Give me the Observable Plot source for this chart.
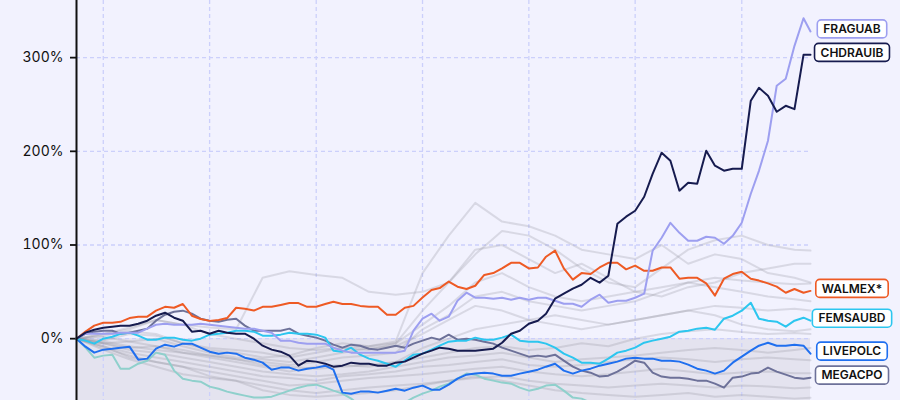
<!DOCTYPE html>
<html><head><meta charset="utf-8">
<script src="https://cdn.jsdelivr.net/npm/d3@7"></script>
<script src="https://cdn.jsdelivr.net/npm/@observablehq/plot@0.6"></script>
<style>
html,body{margin:0;padding:0;background:#f2f2fe;}
#chart{width:900px;height:400px;overflow:hidden;}
#chart svg [aria-label="y-axis tick"]{stroke-width:1.8px;}
</style></head><body><div id="chart"></div>
<script>
// Monthly observation dates (Oct 2018 → Aug 2025)
const monthDates = d3.utcMonth.range(new Date(Date.UTC(2018, 9, 1)), new Date(Date.UTC(2025, 7, 2)));
monthDates.push(new Date(Date.UTC(2025, 7, 25)));
const quarterDates = monthDates.filter((d, i) => i % 3 === 0 || i === monthDates.length - 1);

const yearTicks = ["2019-01-01","2020-01-01","2021-01-01","2022-01-01","2023-01-01","2024-01-01","2025-01-01"].map(d => new Date(d));
const yTicks = [0, 100, 200, 300];

// Highlighted series (cumulative return, %)
const hiNames  = ["LALAB", "MEGACPO", "LIVEPOLC", "FEMSAUBD", "WALMEX*", "FRAGUAB", "CHDRAUIB"];
const hiColors = ["#8fd0cc", "#6d7199", "#1f6fef", "#2cc6ef", "#ee5a24", "#9d9ff0", "#161b4f"];
const hiLabeled = [false, true, true, true, true, true, true];

const lalab = [0,-9.6,-20.3,-18.1,-17.1,-32,-32,-26.7,-23.5,-14.9, -17.1,-34.1,-42.7,-44.8,-45.9,-51.2,-53.4,-56.5,-58.7,-60.8, -62.9,-62.9,-61.9,-58.7,-55.5,-52.3,-50.1,-49.1,-52.3,-55.5, -58.7,-64,-71.5,-76.8,-76.8,-74.7,-71.5,-68.3,-62.9,-58.7, -55.5,-51.2,-48,-42.7,-37.3,-38.4,-42.7,-44.8,-46.9,-48, -52.3,-55.5,-53.4,-50.1,-49.1,-55.5,-62.9,-64,-68.3,-72, -75,-74,-77,-80,-78,-82,-84,-83,-86,-85, -88,-87,-89,-86,-84,-85,-83,-86,-84,-85, -87,-86,-88,-87];
const megacpo = [0,5.3,7.5,8.5,8.5,5.3,6.4,8.5,10.7,19.2, 25.6,28.8,29.9,26.7,21.3,19.2,18.1,20.3,21.3,13.9, 8.5,8.5,8.5,8.5,10.7,5.3,3.2,1.1,-2.1,-6.4, -9.6,-6.4,-7.5,-10.7,-11.7,-9.6,-7.5,-9.6,-5.3,-2.1, 1.1,-1.1,4.3,-1.1,0,-1.1,-3.2,-5.3,-9.6,-12.8, -16,-19.2,-18.1,-19.2,-17.1,-23.5,-29.9,-34.1,-36.3,-40.5, -39.5,-35.2,-29.9,-23.5,-25.6,-36.3,-40.5,-41.6,-41.6,-42.7, -44.8,-44.8,-48,-52.3,-41.6,-40.5,-37.3,-36.3,-30.9,-35.2, -38.4,-41.6,-42.7,-41.6];
const livepolc = [0,-8.5,-14.9,-11.7,-10.7,-9.6,-8.5,-22.4,-21.3,-10.7, -6.4,-8.5,-5.3,-5.3,-9.6,-13.9,-16,-14.9,-16,-20.3, -22.4,-25.6,-33.1,-30.9,-30.9,-34.1,-32,-30.9,-28.8,-33.1, -57.6,-58.7,-56.5,-56.5,-57.6,-55.5,-53.4,-55.5,-52.3,-50.1, -54.4,-54.4,-49.1,-42.7,-38.4,-37.3,-36.3,-37.3,-39.5,-39.5, -37.3,-35.2,-33.1,-29.9,-26.7,-34.1,-37.3,-34.1,-32,-28.8, -26.7,-24.5,-21.3,-20.3,-21.3,-21.3,-23.5,-23.5,-24.5,-27.7, -32,-34.1,-37.3,-34.1,-25.6,-19.2,-12.8,-7.5,-4.3,-7.5, -7.5,-6.4,-7.5,-16];
const femsaubd = [0,-2.1,-5.3,0,2.1,5.3,6.4,3.2,-1.1,-1.1, 1.1,1.1,-1.1,-2.1,0,4.3,5.3,6.4,8.5,8.5, 7.5,3.2,3.2,4.3,6.4,5.3,5.3,4.3,1.1,-12.8, -13.9,-9.6,-17.1,-21.3,-23.5,-26.7,-29.9,-23.5,-17.1,-16, -11.7,-7.5,-3.2,-2.1,-2.1,1.1,-1.1,-1.1,1.1,4.3, -2.1,-3.2,-3.2,-5.3,-9.6,-16,-20.3,-25.6,-25.6,-26.7, -21.3,-14.9,-12.8,-9.6,-4.3,-2.1,0,2.1,7.5,8.5, 10.7,11.7,9.6,21.3,24.5,29.9,38.4,21.3,19.2,18.1, 12.8,19.2,22.4,19.2];
const walmex = [0,7.5,13.9,17,17,18,22,23.5,23.5,30, 34,33,37,24.5,21,19,20,22,33,32, 30,34,34,36,38,38,34,34,37,39.5, 37,37,35,34,34,25.5,25.5,33,35,44, 52,54,61,55.5,53,56.5,68,70,75,81, 81,75,76,87.5,94,75,63,70,69,76, 81,81,74,78,72.5,72.5,76,76,64,65, 65,59,46,64,69,71.5,64,62,59,55.5, 49,53,49,51];
const fraguab = [0,5.3,5.3,5.3,5.3,6.4,6.4,6.4,10.7,14.9, 16,14.9,14.9,14.9,16,14.9,13.9,12.8,11.7,10.7, 10.7,8.5,6.4,-2.1,-2.1,-4.3,-5.3,-5.3,-5.3,-9.6, -12.8,-14.9,-14.9,-14.9,-14.9,-14.9,-14.9,-12.8,8.5,21.3, 26.7,19.2,23.5,40.5,49.1,43.7,43.7,42.7,43.7,41.6, 43.7,41.6,43.7,43.7,40.5,37.3,37.3,34.1,41.6,46.9, 38.4,40.5,40.5,43.7,48,93.9,107.7,123.7,113,104.5, 104.5,108.8,107.7,101.3,109.8,123.7,154.7,179.2,211.3,270, 277.4,312.6,342,328];
const chdrauib = [0,6.4,9.6,11.7,12.8,13.9,13.9,16,19.2,24.5, 27.7,22.4,19.2,7.5,8.5,5.3,8.5,6.4,5.3,5.3, 0,-7.5,-11.7,-13.9,-18.1,-28.8,-23.5,-24.5,-26.7,-29.9, -28.8,-25.6,-26.7,-26.7,-28.8,-28.8,-25.6,-24.5,-20.3,-16, -12.8,-9.6,-10.7,-12.8,-12.8,-12.8,-11.7,-10.7,-4.3,5.3, 8.5,16,19.2,26.7,42.7,48,53.4,57.6,65,59.8, 67.2,122.7,130.2,136.6,151.5,176,198.5,190,158,166.5, 165.4,200.6,184.6,179.3,181.4,181.4,254,267.8,259.3,242.2, 248.6,245,303,303];
const hiValues = [lalab, megacpo, livepolc, femsaubd, walmex, fraguab, chdrauib];

// Background (peer) series, quarterly
const grayNames = ["ALSEA*","BIMBOA","KOFUBL","AC*","SORIANAB","LACOMERUBC","GRUMAB","HERDEZ*","CULTIBAB","BACHOCOB","GIGANTE*","SIMECB","GENTERA*"];
const g1  = [0,3,8,5,-5,-12,-15,-20,-18,-10,-5,-8,-3,70,110,145,125,120,110,95,90,85,100,80,90,85,70,65,60];
const g2  = [0,5,10,20,15,12,10,65,72,68,65,50,47,50,60,90,115,110,95,75,60,55,75,95,105,110,100,95,94];
const g3  = [0,-2,5,3,-5,-10,-12,-15,-20,-15,-10,-12,-5,30,60,95,100,85,70,80,65,50,45,55,60,70,75,80,80];
const g4  = [0,2,-3,-8,-12,-18,-22,-25,-28,-25,-20,-18,-15,10,25,45,50,40,35,30,35,40,50,60,55,50,45,42,40];
const g5  = [0,-5,-10,-8,-15,-20,-25,-30,-35,-30,-28,-30,-25,-10,0,10,15,20,25,20,15,20,25,30,35,33,30,32,30];
const g6  = [0,-3,-8,-12,-15,-18,-22,-28,-30,-32,-30,-28,-25,-20,-15,-10,-8,-12,-10,-5,-8,0,5,8,10,7,5,6,5];
const g7  = [0,-5,-12,-15,-20,-25,-30,-35,-38,-40,-38,-35,-30,-25,-20,-18,-15,-20,-25,-22,-20,-18,-15,-12,-10,-12,-15,-12,-10];
const g8  = [0,-8,-15,-20,-25,-30,-35,-40,-42,-45,-40,-38,-35,-30,-28,-25,-22,-28,-30,-28,-25,-22,-20,-22,-25,-22,-20,-22,-23];
const g9  = [0,-10,-18,-25,-30,-35,-40,-45,-50,-48,-45,-42,-40,-38,-35,-32,-30,-35,-38,-40,-38,-35,-32,-35,-38,-36,-35,-37,-37];
const g10 = [0,-12,-22,-30,-38,-42,-45,-50,-55,-58,-55,-52,-50,-48,-45,-42,-40,-45,-48,-50,-52,-50,-48,-50,-52,-50,-51,-53,-52];
const g11 = [0,5,12,20,15,5,0,-5,-10,-12,-10,-8,-5,15,35,60,70,55,45,40,45,50,55,60,65,62,60,58,59];
const g12 = [0,-5,-3,0,-8,-15,-20,-22,-25,-20,-15,-10,-8,5,20,35,30,20,15,10,15,20,25,30,25,15,10,8,10];
const g13 = [0,-8,-20,-25,-30,-40,-45,-55,-60,-62,-60,-58,-55,-50,-45,-40,-45,-50,-55,-58,-60,-62,-60,-58,-62,-60,-62,-64,-63];
const grayValues = [g1,g2,g3,g4,g5,g6,g7,g8,g9,g10,g11,g12,g13];

const yDomain = [-66, 361];

const grayRows = [];
grayNames.forEach((n, k) => grayValues[k].forEach((v, i) => grayRows.push({name: n, date: quarterDates[i], value: v})));
const hiRows = hiNames.map((n, k) => hiValues[k].map((v, i) => ({name: n, date: monthDates[i], value: v})));

const first = monthDates[0], last = monthDates[monthDates.length - 1];

const plot = Plot.plot({
  width: 900, height: 400,
  marginLeft: 76, marginRight: 90, marginTop: 0, marginBottom: 0,
  style: {background: "#f2f2fe", fontFamily: "Inter, sans-serif", fontSize: "14px", color: "#111", overflow: "hidden"},
  x: {type: "utc", domain: [first, last], axis: null},
  y: {domain: yDomain, ticks: yTicks, tickFormat: d => d + "%", tickSize: 6, tickPadding: 7, label: null},
  marks: [
    Plot.rect([{x1: first, x2: last, y1: yDomain[0], y2: 0}], {x1: "x1", x2: "x2", y1: "y1", y2: "y2", fill: "#e4e3ef"}),
    Plot.ruleX(yearTicks, {stroke: "#ccd0fb", strokeWidth: 1.3, strokeDasharray: "4,3"}),
    Plot.ruleY(yTicks, {stroke: "#ccd0fb", strokeWidth: 1.3, strokeDasharray: "4,3"}),
    Plot.line(grayRows, {x: "date", y: "value", z: "name", stroke: "#8e8e9c", strokeOpacity: 0.26, strokeWidth: 2}),
    ...hiRows.map((rows, k) => Plot.line(rows, {x: "date", y: "value", stroke: hiColors[k], strokeWidth: 2})),
    Plot.ruleX([first], {stroke: "#111", strokeWidth: 2})
  ]
});

document.getElementById("chart").appendChild(plot);

// Right-hand labels in boxes, positioned through Plot's scales
const xs = plot.scale("x"), ys = plot.scale("y");
const labels = hiNames.map((n, k) => ({name: n, color: hiColors[k], labeled: hiLabeled[k], y: ys.apply(hiValues[k][hiValues[k].length - 1]) - 2}))
  .filter(d => d.labeled)
  .sort((a, b) => a.y - b.y);
for (let i = 1; i < labels.length; i++) {
  if (labels[i].y - labels[i - 1].y < 23) labels[i].y = labels[i - 1].y + 23;
}
const cx = xs.apply(last) + 42;
const svg = d3.select(plot.tagName.toLowerCase() === "svg" ? plot : plot.querySelector("svg"));
const g = svg.append("g").attr("font-family", "Inter, sans-serif").attr("font-size", 12).attr("font-weight", 600);
labels.forEach(d => {
  const grp = g.append("g");
  const rect = grp.append("rect");
  const t = grp.append("text").attr("x", cx).attr("y", d.y).attr("text-anchor", "middle").attr("dy", "0.35em").attr("fill", "#111").text(d.name);
  const bb = t.node().getBBox();
  rect.attr("x", cx - bb.width / 2 - 6).attr("y", d.y - 9).attr("width", bb.width + 12).attr("height", 18)
    .attr("rx", 4).attr("fill", "#fff").attr("stroke", d.color).attr("stroke-width", 1.6);
});
</script>
</body></html>
